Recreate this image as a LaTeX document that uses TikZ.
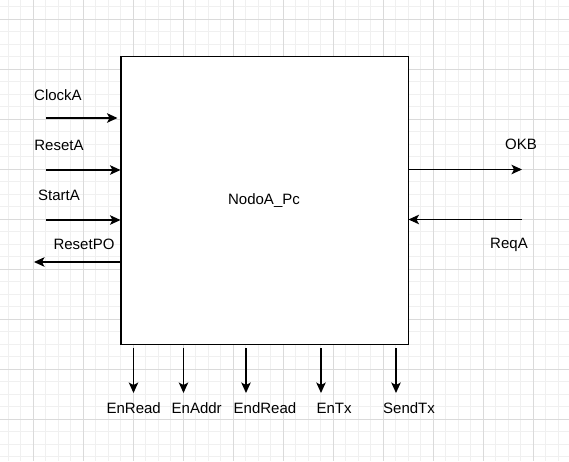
\documentclass[tikz,border=0pt]{standalone}
\usepackage{fontspec}
\setmainfont{Liberation Sans}
\usetikzlibrary{arrows.meta}
\definecolor{gridminor}{HTML}{F0F0F0}
\definecolor{gridmajor}{HTML}{DADADA}
\definecolor{ink}{HTML}{000000}
\tikzset{
  sig/.style={draw=ink, line width=1.3pt, -{Stealth[length=10.5pt,width=9.5pt,inset=2.5pt]}},
  lbl/.style={font=\fontsize{15}{18}\selectfont, text=ink, inner sep=0pt, anchor=center},
  blockbox/.style={draw=ink, fill=white, line width=1.3pt, minimum width=287.5pt, minimum height=287.5pt, inner sep=0pt}
}
\begin{document}
\begin{tikzpicture}[x=1pt,y=-1pt]
\useasboundingbox (0,0) rectangle (569,461);
\fill[white] (0,0) rectangle (569,461);
\begin{scope}
\clip (0,0) rectangle (569,461);
\foreach \i in {0,...,46} {
  \draw[gridminor, line width=0.8pt] ({-4.5+12.5*\i},0) -- ({-4.5+12.5*\i},461);
}
\foreach \i in {0,...,37} {
  \draw[gridminor, line width=0.8pt] (0,{6.5+12.5*\i}) -- (569,{6.5+12.5*\i});
}
\foreach \i in {0,...,11} {
  \draw[gridmajor, line width=0.8pt] ({33+50*\i},0) -- ({33+50*\i},461);
}
\foreach \i in {0,...,9} {
  \draw[gridmajor, line width=0.8pt] (0,{19+50*\i}) -- (569,{19+50*\i});
}
\end{scope}

\node[blockbox] (box) at (264.75,200.5) {};
\node[lbl] (title) at (264,201) {NodoA\_Pc};

% left side
\coordinate (clkS) at (46,118);   \coordinate (clkE) at (117.5,118);
\coordinate (rstS) at (46,170);   \coordinate (rstE) at (120.5,170);
\coordinate (stS)  at (46,220);   \coordinate (stE)  at (120.5,220);
\coordinate (rpoS) at (121,262);  \coordinate (rpoE) at (34,262);
\draw[sig] (clkS) -- (clkE);
\draw[sig] (rstS) -- (rstE);
\draw[sig] (stS) -- (stE);
\draw[sig] (rpoS) -- (rpoE);
\node[lbl] (lclk) at (58,95) {ClockA};
\node[lbl] (lrst) at (59,145.5) {ResetA};
\node[lbl] (lst)  at (59,195) {StartA};
\node[lbl] (lrpo) at (84,244) {ResetPO};

% right side
\coordinate (okS) at (408.5,169.5); \coordinate (okE) at (522,169.5);
\coordinate (rqS) at (522,219.5);   \coordinate (rqE) at (408.5,219.5);
\draw[sig] (okS) -- (okE);
\draw[sig] (rqS) -- (rqE);
\node[lbl] (lok) at (521,144) {OKB};
\node[lbl] (lrq) at (509,245) {ReqA};

% bottom
\foreach \n/\x in {a/133.5,b/183.5,c/246,d/321,e/396} {
  \coordinate (bs\n) at (\x,348);
  \coordinate (be\n) at (\x,393);
  \draw[sig] (bs\n) -- (be\n);
}
\node[lbl] (lenr) at (133.7,408) {EnRead};
\node[lbl] (lena) at (196.7,408) {EnAddr};
\node[lbl] (lend) at (265,408) {EndRead};
\node[lbl] (lent) at (334,408) {EnTx};
\node[lbl] (lsnd) at (409,408) {SendTx};
\end{tikzpicture}
\end{document}
